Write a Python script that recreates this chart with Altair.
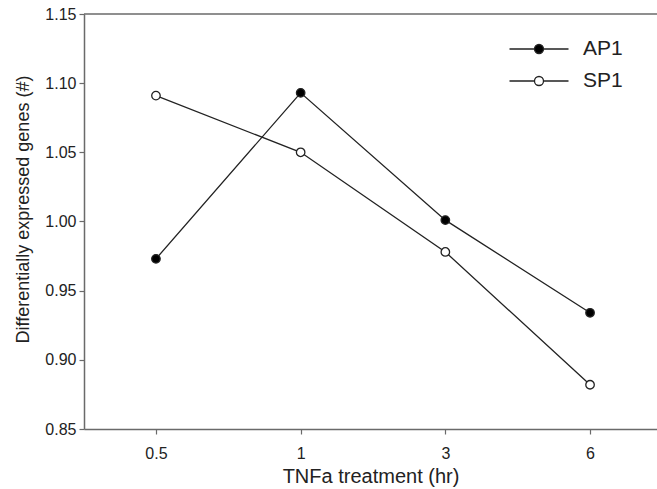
import altair as alt
import pandas as pd

times = ["0.5", "1", "3", "6"]
ap1 = [0.973, 1.093, 1.001, 0.934]
sp1 = [1.091, 1.050, 0.978, 0.882]
series = ["AP1", "SP1"]
series_fill = ["#000000", "#ffffff"]
y_ticks = [0.85, 0.90, 0.95, 1.00, 1.05, 1.10, 1.15]

rows = []
for s, vals in zip(series, [ap1, sp1]):
    for t, v in zip(times, vals):
        rows.append({"time": t, "value": v, "series": s})
df = pd.DataFrame(rows)

FONT = "Liberation Sans"
INK = "#222222"
AXIS = "#6a6a6a"
W, H = 573, 415

x_enc = alt.X(
    "time:N",
    sort=times,
    scale=alt.Scale(type="point", padding=0.48, align=0.518),
    axis=alt.Axis(title="TNFa treatment (hr)", labelAngle=0, labelPadding=11,
                  titlePadding=5, titleFontSize=20),
)
y_enc = alt.Y(
    "value:Q",
    scale=alt.Scale(domain=[0.85, 1.15], nice=False, zero=False),
    axis=alt.Axis(values=y_ticks, format=".2f", title="Differentially expressed genes (#)",
                  labelPadding=3, titlePadding=12, titleFontSize=18, titleY=195),
)

# legend glyph: a line with a circle in its middle (unit = half the symbol diameter)
legend_path = ("M-2.95,0H-0.45 M0.45,0H2.95 "
               "M0.45,0A0.45,0.45 0 1,1 -0.45,0A0.45,0.45 0 1,1 0.45,0Z")

lines = alt.Chart(df).mark_line(color=INK, strokeWidth=1.3).encode(
    x=x_enc, y=y_enc, detail="series:N"
)
points = alt.Chart(df).mark_point(
    shape="circle", filled=True, size=72, stroke=INK, strokeWidth=1.3, opacity=1
).encode(
    x=x_enc,
    y=y_enc,
    fill=alt.Fill(
        "series:N",
        scale=alt.Scale(domain=series, range=series_fill),
        legend=alt.Legend(
            title=None,
            orient="none",
            legendX=444,
            legendY=24,
            symbolType=legend_path,
            symbolSize=400,
            symbolStrokeColor=INK,
            symbolStrokeWidth=1.3,
            labelFont=FONT,
            labelFontSize=21,
            labelColor=INK,
            labelOffset=33,
            rowPadding=11,
        ),
    ),
)
top_line = alt.Chart(pd.DataFrame({"k": [0]})).mark_rule(color=AXIS, strokeWidth=1.5).encode(
    x=alt.value(0), x2=alt.value(W), y=alt.value(0)
)

chart = alt.layer(top_line, lines, points).properties(
    width=W,
    height=H,
    background="white",
    autosize=alt.AutoSizeParams(type="none"),
    padding={"left": 84, "top": 14, "right": 0, "bottom": 60},
).configure_view(stroke=None).configure_axis(
    grid=False,
    domainColor=AXIS,
    domainWidth=1.5,
    tickColor=AXIS,
    tickWidth=1.2,
    tickSize=5,
    labelFont=FONT,
    labelFontSize=16,
    labelColor=INK,
    titleFont=FONT,
    titleFontWeight="normal",
    titleColor=INK,
)

chart.save("out.html", embed_options={"renderer": "svg", "actions": False})
